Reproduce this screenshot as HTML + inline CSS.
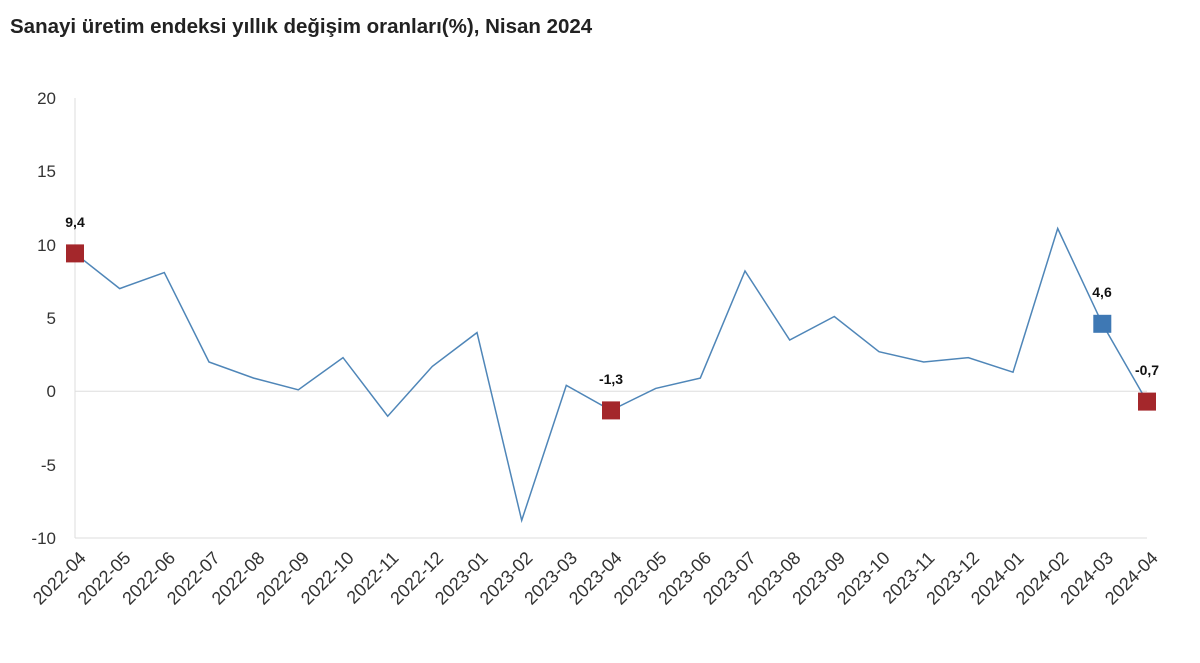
<!DOCTYPE html>
<html><head><meta charset="utf-8"><style>
body{margin:0;background:#fff;}
svg{display:block;font-family:"Liberation Sans",sans-serif;}
</style></head><body>
<svg width="1200" height="663" viewBox="0 0 1200 663">
<text x="10" y="33" font-size="20.5" font-weight="bold" fill="#222">Sanayi üretim endeksi yıllık değişim oranları(%), Nisan 2024</text>
<line x1="75" y1="98" x2="75" y2="538" stroke="#ddd" stroke-width="1"/>
<line x1="75" y1="538" x2="1147" y2="538" stroke="#ddd" stroke-width="1"/>
<line x1="75" y1="391.3" x2="1147" y2="391.3" stroke="#ddd" stroke-width="1"/>
<g font-size="17" fill="#333" text-anchor="end">
<text x="56" y="104">20</text>
<text x="56" y="177">15</text>
<text x="56" y="251">10</text>
<text x="56" y="324">5</text>
<text x="56" y="397">0</text>
<text x="56" y="471">-5</text>
<text x="56" y="544">-10</text>
</g>
<polyline fill="none" stroke="#4f86b8" stroke-width="1.5" points="75,253.4 119.7,288.6 164.3,272.5 209,362 253.7,378.1 298.3,389.8 343,357.6 387.7,416.2 432.3,366.4 477,332.6 521.7,520.4 566.3,385.4 611,410.4 655.7,388.4 700.3,378.1 745,271 789.7,340 834.3,316.5 879,351.7 923.7,362 968.3,357.6 1013,372.2 1057.7,228.5 1102.3,323.8 1147,401.6"/>
<rect x="66" y="244.4" width="18" height="18" fill="#a4272b"/>
<rect x="602" y="401.4" width="18" height="18" fill="#a4272b"/>
<rect x="1093.3" y="314.8" width="18" height="18" fill="#3e78b4"/>
<rect x="1138" y="392.6" width="18" height="18" fill="#a4272b"/>
<g font-size="14" font-weight="bold" fill="#111" text-anchor="middle">
<text x="75" y="227">9,4</text>
<text x="611" y="384">-1,3</text>
<text x="1102" y="297">4,6</text>
<text x="1147" y="375">-0,7</text>
</g>
<g font-size="18" fill="#333" text-anchor="end">
<text transform="translate(87,559) rotate(-45)">2022-04</text>
<text transform="translate(131.7,559) rotate(-45)">2022-05</text>
<text transform="translate(176.3,559) rotate(-45)">2022-06</text>
<text transform="translate(221,559) rotate(-45)">2022-07</text>
<text transform="translate(265.7,559) rotate(-45)">2022-08</text>
<text transform="translate(310.3,559) rotate(-45)">2022-09</text>
<text transform="translate(355,559) rotate(-45)">2022-10</text>
<text transform="translate(399.7,559) rotate(-45)">2022-11</text>
<text transform="translate(444.3,559) rotate(-45)">2022-12</text>
<text transform="translate(489,559) rotate(-45)">2023-01</text>
<text transform="translate(533.7,559) rotate(-45)">2023-02</text>
<text transform="translate(578.3,559) rotate(-45)">2023-03</text>
<text transform="translate(623,559) rotate(-45)">2023-04</text>
<text transform="translate(667.7,559) rotate(-45)">2023-05</text>
<text transform="translate(712.3,559) rotate(-45)">2023-06</text>
<text transform="translate(757,559) rotate(-45)">2023-07</text>
<text transform="translate(801.7,559) rotate(-45)">2023-08</text>
<text transform="translate(846.3,559) rotate(-45)">2023-09</text>
<text transform="translate(891,559) rotate(-45)">2023-10</text>
<text transform="translate(935.7,559) rotate(-45)">2023-11</text>
<text transform="translate(980.3,559) rotate(-45)">2023-12</text>
<text transform="translate(1025,559) rotate(-45)">2024-01</text>
<text transform="translate(1069.7,559) rotate(-45)">2024-02</text>
<text transform="translate(1114.3,559) rotate(-45)">2024-03</text>
<text transform="translate(1159,559) rotate(-45)">2024-04</text>
</g>
</svg>
</body></html>
